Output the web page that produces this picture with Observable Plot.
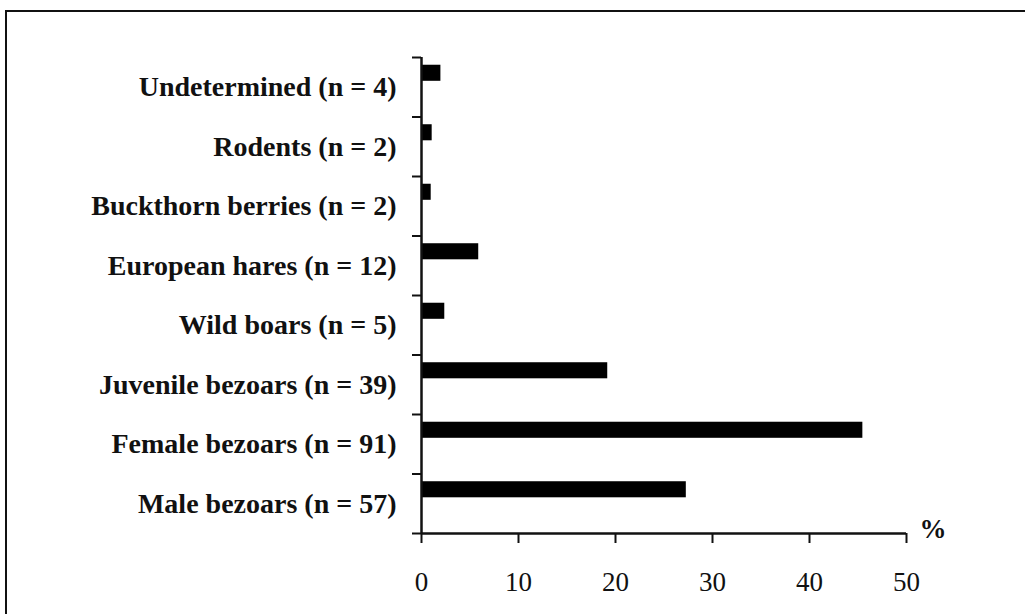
<!DOCTYPE html>
<html>
<head>
<meta charset="utf-8">
<script src="https://cdn.jsdelivr.net/npm/d3@7"></script>
<script src="https://cdn.jsdelivr.net/npm/@observablehq/plot@0.6"></script>
<style>
  html, body { margin: 0; padding: 0; background: #fff; }
  #wrap { position: relative; width: 1025px; height: 614px; overflow: hidden; }
  #frame { position: absolute; left: 5px; top: 10px; right: -5px; bottom: -5px;
           border-top: 2px solid #111; border-left: 2px solid #111; }
  #chart { position: absolute; left: 0; top: 0; }
</style>
</head>
<body>
<div id="wrap"><div id="frame"></div><div id="chart"></div></div>
<script>
// Categories from bottom to top
const categories = [
  "Male bezoars (n = 57)",
  "Female bezoars (n = 91)",
  "Juvenile bezoars (n = 39)",
  "Wild boars (n = 5)",
  "European hares (n = 12)",
  "Buckthorn berries (n = 2)",
  "Rodents (n = 2)",
  "Undetermined (n = 4)"
];
// Percent values
const values = [27.3, 45.5, 19.2, 2.4, 5.9, 1.0, 1.1, 2.0];
const xTicks = [0, 10, 20, 30, 40, 50];
const unitLabel = "%";

const rows = categories.map((c, i) => ({cat: c, value: values[i], i}));
const bandTicks = d3.range(0, categories.length + 1);

const chart = Plot.plot({
  width: 1025,
  height: 614,
  marginLeft: 421,
  marginRight: 119,
  marginTop: 57,
  marginBottom: 81,
  style: {fontFamily: "'Liberation Serif', 'Times New Roman', serif", background: "transparent", color: "#111"},
  x: {domain: [0, 50]},
  y: {domain: [0, categories.length]},
  marks: [
    Plot.rect(rows, {x1: 0, x2: "value", y1: d => d.i + 0.6, y2: d => d.i + 0.87, fill: "#000"}),
    Plot.axisY({ticks: bandTicks, tickSize: 9, tickFormat: () => "", label: null, strokeWidth: 2}),
    Plot.ruleX([0], {y1: 0, y2: categories.length, strokeWidth: 2.5, stroke: "#111"}),
    Plot.ruleY([0], {x1: 0, x2: 50, strokeWidth: 2.5, stroke: "#111"}),
    Plot.axisX({ticks: xTicks, tickSize: 10, tickPadding: 28, fontSize: 27, label: null, strokeWidth: 2}),
    Plot.text(rows, {x: 0, y: d => d.i + 0.5, text: "cat", textAnchor: "end", dx: -25, fontSize: 28, fontWeight: "bold", fill: "#111"}),
    Plot.text([unitLabel], {frameAnchor: "bottom-right", text: d => d, dx: 40, dy: 4, fontSize: 27, fontWeight: "bold", fill: "#111"})
  ]
});
document.getElementById("chart").appendChild(chart);
</script>
</body>
</html>
